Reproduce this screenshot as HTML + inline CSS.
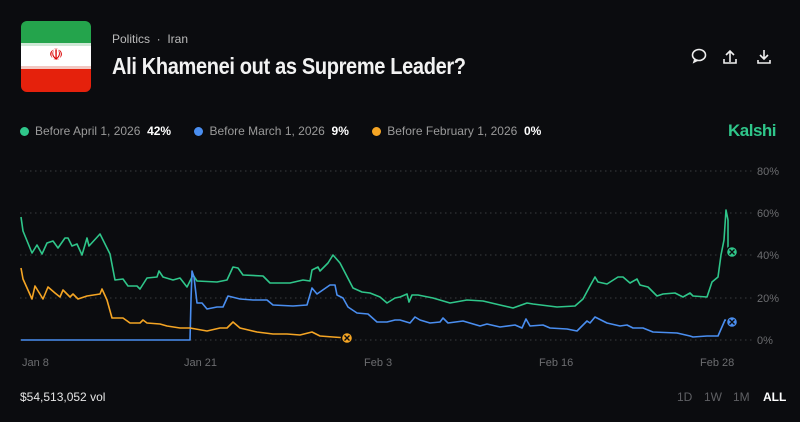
<!DOCTYPE html>
<html><head><meta charset="utf-8"><style>
body{margin:0;width:800px;height:422px;background:#0b0c0f;overflow:hidden;font-family:"Liberation Sans",sans-serif;color:#fff;position:relative}
.a{position:absolute;white-space:nowrap}
.d{display:inline-block;width:9px;height:9px;border-radius:50%;vertical-align:-1px;margin-right:6px}
</style></head><body>
<div class="a" style="left:21px;top:21px;width:70px;height:71px;border-radius:6px;overflow:hidden">
<div style="height:22px;background:#24a44c"></div>
<div style="height:3px;background:#cfe8d6"></div>
<div style="height:20px;background:#fff;text-align:center;color:#da0000;font-size:16px;line-height:20px">☫</div>
<div style="height:3px;background:#f2c8c2"></div>
<div style="height:23px;background:#e5210c"></div>
</div>
<div class="a" style="left:112px;top:32px;font-size:12px;color:#bbb">Politics &nbsp;·&nbsp; Iran</div>
<div class="a" style="left:112px;top:53px;font-size:23px;color:#f2f2f2;font-weight:bold;letter-spacing:-0.4px;transform:scaleX(0.87);transform-origin:left">Ali Khamenei out as Supreme Leader?</div>
<svg class="a" style="left:688px;top:46px" width="90" height="22" fill="none" stroke="#eee" stroke-width="1.6">
<ellipse cx="11" cy="9" rx="6.5" ry="5.5"/><path d="M7 13 L6 16 L10 14"/>
<path d="M42 16 V5 M38 9 L42 5 L46 9 M36 13 V17 H48 V13"/>
<path d="M76 4 V13 M72 9 L76 13 L80 9 M70 14 V17 H82 V14"/>
</svg>
<div class="a" style="left:20px;top:124px;font-size:12px;color:#9a9a9a">
<span class="d" style="background:#2fc68a"></span>Before April 1, 2026 &nbsp;<b style="color:#fff">42%</b>
<span class="d" style="margin-left:20px;background:#4a8ef0"></span>Before March 1, 2026 &nbsp;<b style="color:#fff">9%</b>
<span class="d" style="margin-left:20px;background:#f5a524"></span>Before February 1, 2026 &nbsp;<b style="color:#fff">0%</b></div>
<div class="a" style="left:728px;top:121px;font-size:17px;font-weight:bold;color:#2fc68a;letter-spacing:-0.5px">Kalshi</div>
<svg class="a" style="left:0;top:0" width="800" height="422">
<g stroke="#3a3b3f" stroke-dasharray="1.5 3.5" stroke-width="1">
<line x1="20" x2="755" y1="171" y2="171"/><line x1="20" x2="755" y1="213" y2="213"/><line x1="20" x2="755" y1="255" y2="255"/><line x1="20" x2="755" y1="298" y2="298"/><line x1="20" x2="755" y1="340" y2="340"/></g>
<g fill="#6c6d70" font-size="11" font-family="Liberation Sans,sans-serif">
<text x="757" y="175">80%</text><text x="757" y="217">60%</text><text x="757" y="259">40%</text><text x="757" y="302">20%</text><text x="757" y="344">0%</text>
<text x="22" y="366">Jan 8</text><text x="184" y="366">Jan 21</text><text x="364" y="366">Feb 3</text><text x="539" y="366">Feb 16</text><text x="700" y="366">Feb 28</text></g>
<g fill="none" stroke-width="1.6" stroke-linejoin="round">
<polyline stroke="#2fc68a" points="21,217 23,231 32,253 37,245 42,254 47,243 53,241 58,248 65,238 68,238 72,246 77,244 82,255 87,238 89,246 100,234 110,254 115,280 123,279 128,286 137,286 140,289 147,278 157,277 159,271 163,277 173,280 180,278 187,287 193,275 197,281 217,282 227,280 233,267 238,268 243,275 263,276 270,283 290,283 303,280 310,281 312,270 318,267 320,271 328,263 333,255 340,263 353,288 362,292 370,293 380,297 387,303 395,298 400,297 407,294 409,302 412,295 418,295 433,298 450,303 467,300 483,301 500,305 513,308 527,303 533,304 557,307 575,306 583,299 590,286 595,277 598,282 607,284 618,277 623,277 630,283 637,279 640,285 648,287 657,296 663,294 675,293 683,297 690,293 693,296 707,297 712,282 718,277 721,255 724,240 726,210 728,220 728,250 732,252"/>
<polyline stroke="#4a8ef0" points="21,340 190,340 191,300 192,271 194,277 197,303 202,303 207,309 217,307 223,307 228,296 240,299 253,300 267,300 273,305 293,306 307,305 312,288 317,294 330,285 335,285 337,295 343,298 348,307 357,313 368,314 377,322 387,322 395,320 400,320 410,323 415,317 420,320 430,323 440,322 443,318 448,323 463,321 480,326 487,324 500,327 515,325 522,328 526,319 530,326 543,325 550,328 567,329 577,331 587,321 590,323 595,317 607,323 620,326 627,325 633,328 643,328 653,332 677,333 690,336 693,337 707,336 718,336 725,320 732,322"/>
<polyline stroke="#f5a524" points="21,268 23,279 32,299 35,286 43,299 48,287 55,293 60,297 63,290 70,297 73,294 78,299 87,296 100,294 102,289 107,300 112,318 123,318 130,323 140,323 143,320 147,323 160,324 167,326 180,328 190,328 207,331 220,328 227,328 233,322 240,328 257,332 273,334 287,334 300,335 312,332 320,336 333,337 347,338"/>
</g>
<g stroke="#0b0c0f" stroke-width="1.4">
<circle cx="732" cy="252" r="5.5" fill="#2fc68a"/><path d="M729.5 249.5l5 5m0-5l-5 5"/>
<circle cx="732" cy="322" r="5.5" fill="#4a8ef0"/><path d="M729.5 319.5l5 5m0-5l-5 5"/>
<circle cx="347" cy="338" r="5.5" fill="#f5a524"/><path d="M344.5 335.5l5 5m0-5l-5 5"/>
</g>
<g font-family="Liberation Sans,sans-serif" font-size="12">
<text x="20" y="401" fill="#e6e6e6">$54,513,052 vol</text>
<text x="677" y="401" fill="#5f6064">1D</text><text x="704" y="401" fill="#5f6064">1W</text><text x="733" y="401" fill="#5f6064">1M</text><text x="763" y="401" fill="#fff" font-weight="bold">ALL</text></g>
</svg>
</body></html>
